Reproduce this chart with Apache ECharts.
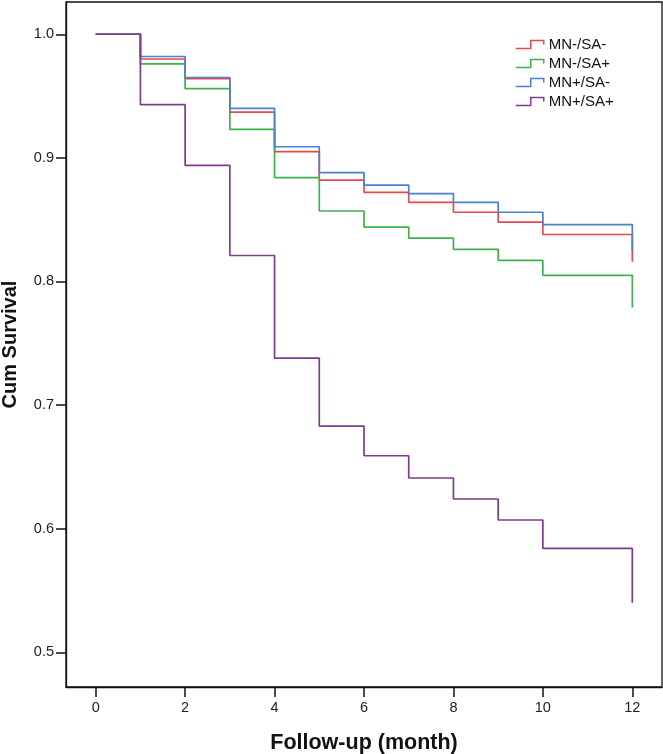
<!DOCTYPE html>
<html>
<head>
<meta charset="utf-8">
<script src="https://cdn.jsdelivr.net/npm/echarts@6/dist/echarts.min.js"></script>
<style>
  html, body { margin: 0; padding: 0; background: #fff; }
  #chart { width: 663px; height: 754px; }
</style>
</head>
<body>
<div id="chart"></div>
<script>
// ---- Data ----
const months = [0, 1, 2, 3, 4, 5, 6, 7, 8, 9, 10, 12];
const seriesNames = ['MN-/SA-', 'MN-/SA+', 'MN+/SA-', 'MN+/SA+'];
const mnNegSaNeg = [1.0, 0.980, 0.964, 0.937, 0.905, 0.882, 0.872, 0.864, 0.856, 0.848, 0.838, 0.816];
const mnNegSaPos = [1.0, 0.976, 0.956, 0.923, 0.884, 0.857, 0.844, 0.835, 0.826, 0.817, 0.805, 0.779];
const mnPosSaNeg = [1.0, 0.982, 0.965, 0.940, 0.909, 0.888, 0.878, 0.871, 0.864, 0.856, 0.846, 0.825];
const mnPosSaPos = [1.0, 0.943, 0.894, 0.821, 0.738, 0.683, 0.659, 0.641, 0.624, 0.607, 0.584, 0.540];
const xTicks = [0, 2, 4, 6, 8, 10, 12];
const yTicks = [0.5, 0.6, 0.7, 0.8, 0.9, 1.0];
const colors = ['#e8484b', '#3cb44d', '#4a7fd6', '#7d3c8d'];

const allValues = [mnNegSaNeg, mnNegSaPos, mnPosSaNeg, mnPosSaPos];
const stepIcon = 'path://M0,8 L15,8 L15,0 L28,0 L28,4';

const chart = echarts.init(document.getElementById('chart'), null, { renderer: 'canvas' });

const series = allValues.map((vals, i) => ({
  name: seriesNames[i],
  type: 'line',
  step: 'end',
  symbol: 'none',
  silent: true,
  animation: false,
  data: months.map((m, j) => [m, vals[j]]),
  lineStyle: { color: colors[i], width: 1.7 },
  itemStyle: { color: colors[i] }
}));

const option = {
  animation: false,
  backgroundColor: '#fff',
  textStyle: { fontFamily: 'Liberation Sans, Arial, sans-serif' },
  grid: {
    left: 66, top: 2, right: 1, bottom: 67,
    outerBoundsMode: 'none',
    containLabel: false,
    show: true,
    borderColor: '#111',
    borderWidth: 1.3,
    backgroundColor: '#fff'
  },
  legend: {
    orient: 'vertical',
    left: 515,
    top: 37,
    padding: 0,
    itemWidth: 28,
    itemHeight: 8,
    itemGap: 4,
    symbolKeepAspect: false,
    icon: stepIcon,
    data: seriesNames.map((n, i) => ({
      name: n,
      icon: stepIcon,
      itemStyle: { color: 'transparent', borderColor: colors[i], borderWidth: 1.5 }
    })),
    textStyle: { fontSize: 15, color: '#111', fontFamily: 'Liberation Sans, Arial, sans-serif' },
    selectedMode: false
  },
  xAxis: {
    type: 'value',
    min: -0.664,
    max: 12.664,
    name: 'Follow-up (month)',
    nameLocation: 'middle',
    nameGap: 45,
    nameTextStyle: { fontSize: 21.5, fontWeight: 'bold', color: '#111', fontFamily: 'Liberation Sans, Arial, sans-serif' },
    axisLine: { show: true, onZero: false, lineStyle: { color: '#111', width: 1.3 } },
    axisTick: { show: true, length: 10, inside: false, customValues: xTicks, lineStyle: { color: '#111', width: 1.5 } },
    axisLabel: { customValues: xTicks, fontSize: 14.5, color: '#222', margin: 13 },
    splitLine: { show: false }
  },
  yAxis: {
    type: 'value',
    min: 0.4719,
    max: 1.0261,
    name: 'Cum Survival',
    nameLocation: 'middle',
    nameGap: 46,
    nameTextStyle: { fontSize: 20, fontWeight: 'bold', color: '#111', fontFamily: 'Liberation Sans, Arial, sans-serif' },
    axisLine: { show: true, onZero: false, lineStyle: { color: '#111', width: 1.3 } },
    axisTick: { show: true, length: 10, inside: false, customValues: yTicks, lineStyle: { color: '#111', width: 1.5 } },
    axisLabel: { customValues: yTicks, fontSize: 14.5, color: '#222', margin: 12, formatter: v => v.toFixed(1) },
    splitLine: { show: false }
  },
  series: series
};

chart.setOption(option);
</script>
</body>
</html>
